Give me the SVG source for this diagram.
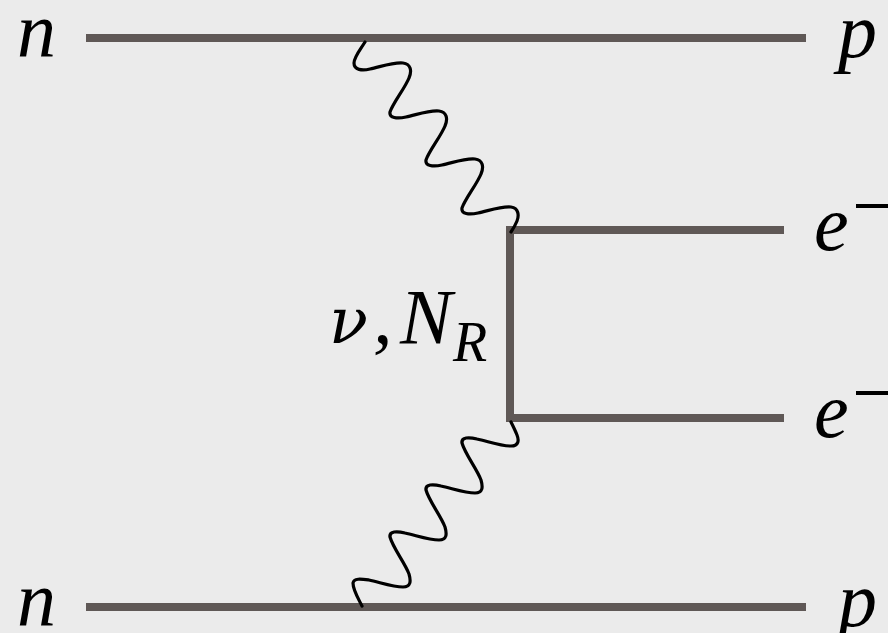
<svg xmlns="http://www.w3.org/2000/svg" width="888" height="633" viewBox="0 0 888 633">
<style>
.f{stroke:#5f5856;stroke-width:8;fill:none}
.w{stroke:#000;stroke-width:3.2;fill:none;stroke-linecap:round}
text{font-family:"Liberation Serif","Times New Roman",serif;font-style:italic;fill:#000}
.t{font-size:78px}
.s{font-size:56px}
.g{font-family:"DejaVu Serif",serif;font-size:64px}
.b{stroke:#000;stroke-width:4;fill:none}
</style>
<rect width="888" height="633" fill="#ebebeb"/>
<g id="connectors">
<path class="f" d="M86,38H806"/>
<path class="f" d="M86,607H806"/>
<path class="f" d="M784,230H510V418H784"/>
<path class="w" d="M365,42C360,50 354,57 354,63C354,70 362,71 370,69C380,67 393,62 403,63C411,64 412,71 409,78C405,88 393,103 390,112C389,118 397,119 406,117C416,115 429,110 439,111C447,112 448,119 445,126C441,136 429,151 426,160C425,166 433,167 442,165C452,163 465,158 475,159C483,160 484,167 481,174C477,184 465,199 462,208C461,214 469,215 478,213C488,211 501,206 511,207C519,208 519,216 517,221C515,226 513,229 511,232"/>
<path class="w" d="M362,606C358,598 353,590 353,583C354,578 361,579 369,580C379,582 393,587 403,587C411,587 411,581 409,574C405,563 393,548 390,537C389,531 397,531 405,533C415,535 429,540 439,540C447,540 447,534 445,527C441,516 429,501 426,490C425,484 433,484 441,486C451,488 465,493 475,493C483,493 483,487 481,480C477,469 465,454 462,443C461,437 469,437 477,439C487,441 501,446 511,446C519,446 519,440 517,435C515,430 513,426 511,422"/>
</g>
<g id="n-top"><text class="t" x="17" y="57">n</text></g>
<g id="n-bottom"><text class="t" x="17" y="626">n</text></g>
<g id="p-top"><text class="t" x="838" y="57">p</text></g>
<g id="p-bottom"><text class="t" x="838" y="626">p</text></g>
<g id="e-top"><text class="t" x="814" y="250">e</text><path class="b" d="M856,206H888"/></g>
<g id="e-bottom"><text class="t" x="814" y="437">e</text><path class="b" d="M856,393H888"/></g>
<g id="neutrino"><text class="g" x="329" y="343">ν</text><text class="t" x="373" y="343">,</text><text class="t" x="400" y="343">N</text><text class="s" x="453" y="361">R</text></g>
</svg>
